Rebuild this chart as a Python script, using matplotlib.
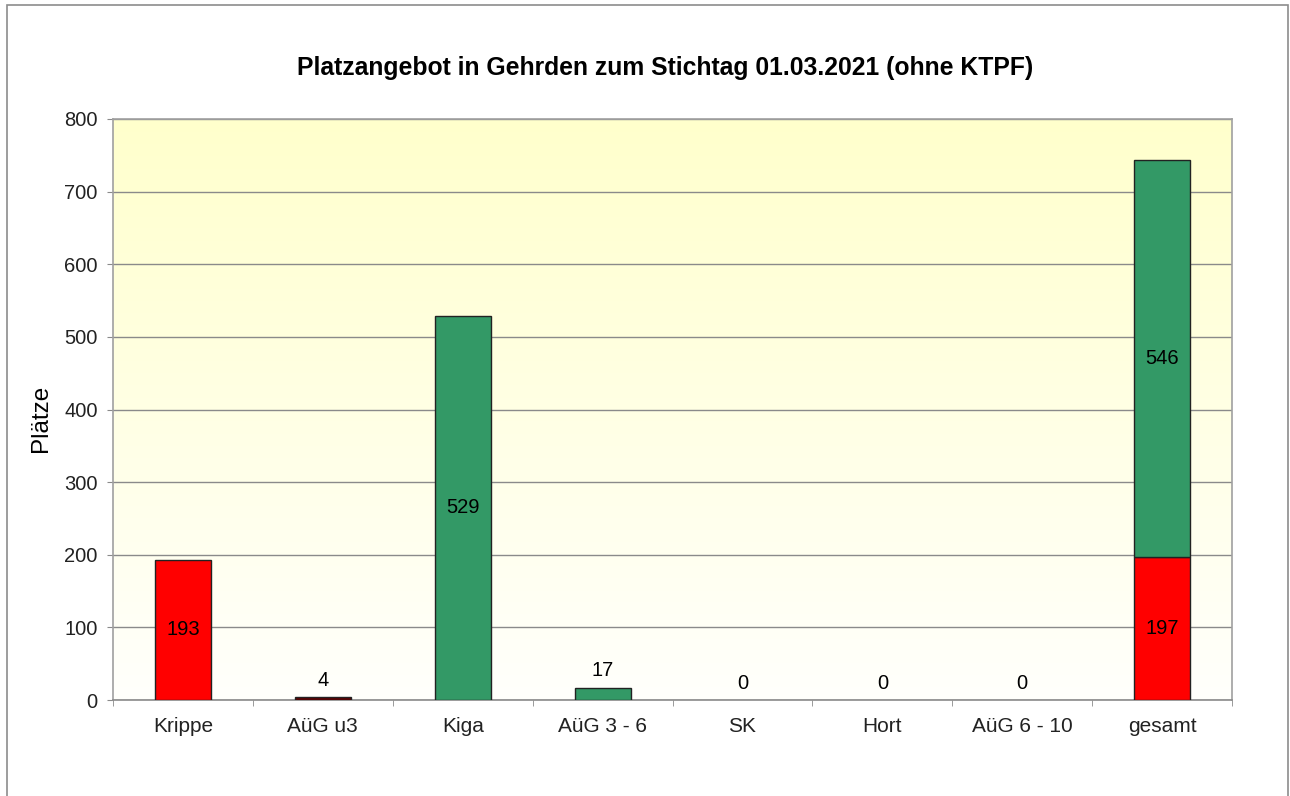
import matplotlib.pyplot as plt
import numpy as np
from matplotlib.patches import Rectangle

plt.rcParams['font.family'] = ['Liberation Sans', 'DejaVu Sans']

categories = ['Krippe', 'AüG u3', 'Kiga', 'AüG 3 - 6', 'SK', 'Hort', 'AüG 6 - 10', 'gesamt']
# bottom segment (u3) and top segment (ü3) of each bar
u3_values = [193, 4, 0, 0, 0, 0, 0, 197]
ue3_values = [0, 0, 529, 17, 0, 0, 0, 546]
u3_colors = ['#FF0000', '#5C0000', '#FF0000', '#FF0000', '#FF0000', '#FF0000', '#FF0000', '#FF0000']
green = '#339966'

fig = plt.figure(figsize=(12.9, 7.96), dpi=100)
# outer chart frame
fig.patches.append(Rectangle((7 / 1290, -0.05), 1281 / 1290, 1.05 - 5 / 796,
                             transform=fig.transFigure, fill=False,
                             edgecolor='#8c8c8c', linewidth=1.2))

ax = fig.add_axes([113 / 1290, 1 - 700 / 796, 1119 / 1290, 581 / 796])
x = np.arange(len(categories))

# background gradient
grad = np.linspace(0, 1, 256).reshape(-1, 1)
top = np.array([255, 255, 204]) / 255
bot = np.array([255, 255, 252]) / 255
img = top[None, None, :] * (1 - grad[:, :, None]) + bot[None, None, :] * grad[:, :, None]
ax.imshow(img, extent=[-0.5, len(categories) - 0.5, 0, 800], aspect='auto',
          origin='upper', zorder=0)

ax.set_xlim(-0.5, len(categories) - 0.5)
ax.set_ylim(0, 800)
ax.set_yticks(range(0, 801, 100))
ax.yaxis.grid(True, color='#8a8a8a', linewidth=1)
ax.set_axisbelow(True)
for s in ax.spines.values():
    s.set_color('#a0a0a0')
    s.set_linewidth(1.2)
ax.spines['bottom'].set_color('#8a8a8a')

w = 0.4
for i in range(len(categories)):
    u = u3_values[i]
    o = ue3_values[i]
    if u > 0:
        ax.bar(x[i], u, w, color=u3_colors[i], edgecolor='#222222', linewidth=1, zorder=3)
    if o > 0:
        ax.bar(x[i], o, w, bottom=u, color=green, edgecolor='#222222', linewidth=1, zorder=3)
    # labels
    if categories[i] == 'gesamt':
        ax.text(x[i], u / 2, str(u), ha='center', va='center', fontsize=14.5, zorder=4)
        ax.text(x[i], u + o / 2, str(o), ha='center', va='center', fontsize=14.5, zorder=4)
    else:
        v = u + o
        if v > 50:
            ax.text(x[i], v / 2, str(v), ha='center', va='center', fontsize=14.5, zorder=4)
        else:
            ax.text(x[i], v + 10, str(v), ha='center', va='bottom', fontsize=14.5, zorder=4)

ax.set_xticks(x)
ax.set_xticklabels(categories)
ax.set_xticks(np.arange(-0.5, len(categories), 1), minor=True)
ax.tick_params(axis='x', which='major', length=0, pad=12, labelsize=15, labelcolor='#222222')
ax.tick_params(axis='x', which='minor', length=4, color='#8a8a8a')
ax.tick_params(axis='y', length=4, color='#8a8a8a', labelsize=14.5, labelcolor='#222222', pad=7)

ax.set_ylabel('Plätze', fontsize=17.5)
ax.yaxis.set_label_coords(-0.0545, 0.485)
fig.text(665 / 1290, 1 - 68 / 796, 'Platzangebot in Gehrden zum Stichtag 01.03.2021 (ohne KTPF)',
         ha='center', va='center', fontsize=17.8, fontweight='bold')

fig.savefig('out.png', dpi=100)
